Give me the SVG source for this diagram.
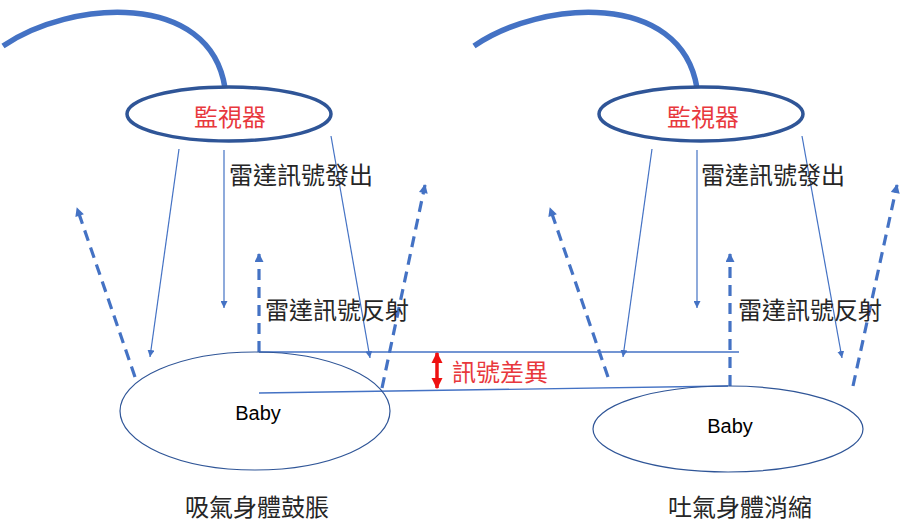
<svg xmlns="http://www.w3.org/2000/svg" width="917" height="527" viewBox="0 0 917 527">
<style>
.cable{fill:none;stroke:#4472C4;stroke-width:5.5;stroke-linecap:butt}
.mon ellipse{fill:#fff;stroke:#2F5597;stroke-width:3.5}
.mon text{fill:#E8383D;font-family:"Noto Sans CJK TC","Noto Sans CJK SC",sans-serif;font-size:24px;text-anchor:middle;dominant-baseline:central}
.baby ellipse{fill:none;stroke:#2F5597;stroke-width:1.2}
.baby text{fill:#000;font-family:"Liberation Sans",Arial,sans-serif;font-size:20px;text-anchor:middle;dominant-baseline:central}
.lbl{fill:#262626;font-family:"Noto Sans CJK TC","Noto Sans CJK SC",sans-serif;font-size:24px;dominant-baseline:central}
.red{fill:#E8383D}
.thin{fill:none;stroke:#4472C4;stroke-width:1.2;marker-end:url(#ah)}
.dash{fill:none;stroke:#4472C4;stroke-width:3.2;stroke-dasharray:11 7;marker-end:url(#dh)}
.ref{fill:none;stroke:#4472C4;stroke-width:1.3}
</style>
<defs>
<marker id="ah" viewBox="0 0 10 10" refX="10" refY="5" markerWidth="7" markerHeight="7" markerUnits="userSpaceOnUse" orient="auto">
<path d="M0,0 L10,5 L0,10 z" fill="#4472C4"/>
</marker>
<marker id="dh" viewBox="0 0 10 10" refX="9" refY="5" markerWidth="10" markerHeight="9" markerUnits="userSpaceOnUse" orient="auto">
<path d="M0,0 L10,5 L0,10 z" fill="#4472C4"/>
</marker>
<marker id="rh" viewBox="0 0 10 10" refX="9" refY="5" markerWidth="11" markerHeight="12" markerUnits="userSpaceOnUse" orient="auto">
<path d="M0,0 L10,5 L0,10 z" fill="#EE1111"/>
</marker>
</defs>

<g id="cables">
<path class="cable" d="M3,46 C70,0 210,-10 225,88"/>
<path class="cable" d="M474,46 C541,0 681,-10 697,88"/>
</g>

<g id="connectors">
<line class="thin" x1="179" y1="149" x2="150" y2="357"/>
<line class="thin" x1="224" y1="150" x2="224" y2="308"/>
<line class="thin" x1="331" y1="136" x2="370" y2="358"/>
<line class="thin" x1="652" y1="149" x2="623" y2="357"/>
<line class="thin" x1="697" y1="150" x2="697" y2="308"/>
<line class="thin" x1="802" y1="136" x2="842" y2="358"/>

<line class="dash" x1="135" y1="377" x2="77" y2="208"/>
<line class="dash" x1="259" y1="352" x2="259" y2="254"/>
<line class="dash" x1="382" y1="388" x2="425" y2="185"/>
<line class="dash" x1="608" y1="377" x2="550" y2="208"/>
<line class="dash" x1="730" y1="386" x2="730" y2="254"/>
<line class="dash" x1="853" y1="386" x2="897" y2="185"/>

<line class="ref" x1="259" y1="352" x2="739" y2="352"/>
<line class="ref" x1="259" y1="393" x2="728" y2="386"/>

<line x1="437" y1="370" x2="437" y2="353" stroke="#EE1111" stroke-width="3.5" marker-end="url(#rh)"/>
<line x1="437" y1="370" x2="437" y2="388" stroke="#EE1111" stroke-width="3.5" marker-end="url(#rh)"/>
</g>

<g id="monitor-left" class="mon">
<ellipse cx="229" cy="114" rx="102" ry="27"/>
<text x="230" y="115">監視器</text>
</g>
<g id="monitor-right" class="mon">
<ellipse cx="701" cy="114" rx="102" ry="27"/>
<text x="703" y="115">監視器</text>
</g>

<g id="baby-left" class="baby">
<ellipse cx="255" cy="411" rx="135" ry="59"/>
<text x="258" y="413">Baby</text>
</g>
<g id="baby-right" class="baby">
<ellipse cx="728" cy="429" rx="135" ry="43"/>
<text x="730" y="426">Baby</text>
</g>

<g id="labels">
<text class="lbl" x="229" y="173">雷達訊號發出</text>
<text class="lbl" x="701" y="173">雷達訊號發出</text>
<text class="lbl" x="265" y="308">雷達訊號反射</text>
<text class="lbl" x="738" y="308">雷達訊號反射</text>
<text class="lbl red" x="452" y="370">訊號差異</text>
<text class="lbl" x="185" y="505">吸氣身體鼓脹</text>
<text class="lbl" x="668" y="505">吐氣身體消縮</text>
</g>
</svg>
